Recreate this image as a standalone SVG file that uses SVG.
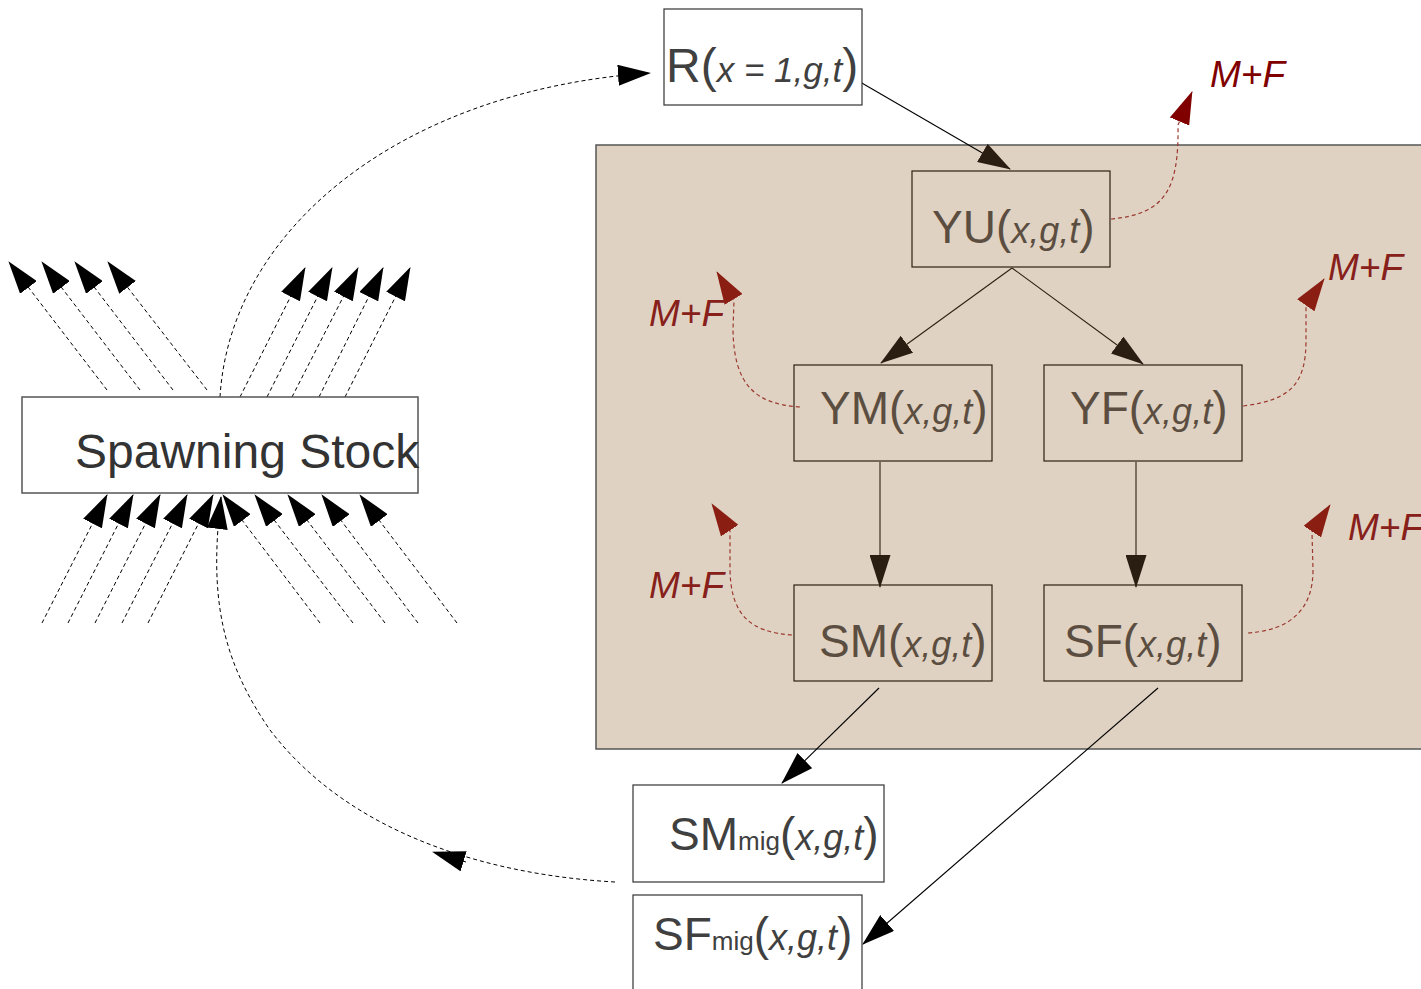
<svg xmlns="http://www.w3.org/2000/svg" width="1421" height="989" viewBox="0 0 1421 989">
<style>
text{font-family:"Liberation Sans",Arial,sans-serif;}
.big{font-size:46px;}
.it{font-size:36px;font-style:italic;}
.sub{font-size:26px;}
.out{fill:#404040;}
.in{fill:#5b4e41;}
.boxout{fill:#fff;stroke:#333;stroke-width:1.2;}
.boxin{fill:none;stroke:#2d2010;stroke-width:1.2;}
.mf{font-size:37px;font-style:italic;}
.solid{fill:none;stroke:#000;stroke-width:1.1;}
.solidin{fill:none;stroke:#2d2010;stroke-width:1.1;}
.dash{fill:none;stroke:#000;stroke-width:1;stroke-dasharray:4 3;}
.rdash{fill:none;stroke:#9a3a30;stroke-width:1.2;stroke-dasharray:4 3;}
</style>
<defs>
<marker id="ah" viewBox="0 0 33 21" refX="32" refY="10.5" markerWidth="33" markerHeight="21" orient="auto" markerUnits="userSpaceOnUse"><path d="M0,0 L33,10.5 L0,21z" fill="#000"/></marker>
<marker id="ahb" viewBox="0 0 33 21" refX="32" refY="10.5" markerWidth="33" markerHeight="21" orient="auto" markerUnits="userSpaceOnUse"><path d="M0,0 L33,10.5 L0,21z" fill="#2a1e12"/></marker>
<marker id="ahr" viewBox="0 0 33 21" refX="32" refY="10.5" markerWidth="33" markerHeight="21" orient="auto" markerUnits="userSpaceOnUse"><path d="M0,0 L33,10.5 L0,21z" fill="#800000"/></marker>
<marker id="ahri" viewBox="0 0 33 21" refX="32" refY="10.5" markerWidth="33" markerHeight="21" orient="auto" markerUnits="userSpaceOnUse"><path d="M0,0 L33,10.5 L0,21z" fill="#8a1e12"/></marker>
</defs>
<rect x="0" y="0" width="1421" height="989" fill="#fff"/>
<g id="region">
<rect x="596" y="145" width="840" height="604" fill="#e0d2c2" stroke="#555" stroke-width="1.5"/>
</g>
<g id="connectors">
<path class="solid" d="M848,75 L1010,169" marker-end="url(#ahb)"/>
<path class="solidin" d="M1012,268 L881,363" marker-end="url(#ahb)"/>
<path class="solidin" d="M1012,268 L1143,364" marker-end="url(#ahb)"/>
<path class="solidin" d="M880,462 L880,587" marker-end="url(#ahb)"/>
<path class="solidin" d="M1136,462 L1136,587" marker-end="url(#ahb)"/>
<path class="solid" d="M879,688 L782,783" marker-end="url(#ah)"/>
<path class="solid" d="M1158,688 L863,944" marker-end="url(#ah)"/>
<path class="dash" d="M220,397 C230,230 400,90 650,73" marker-end="url(#ah)"/>
<path class="dash" d="M615,882 C490,875 350,835 270,730 C218,655 210,590 221,497" marker-end="url(#ah)"/>
<path class="dash" d="M466,862 L433,852" marker-end="url(#ah)"/>
<path class="dash" d="M107,390 L9,262" marker-end="url(#ah)"/>
<path class="dash" d="M140,390 L42,262" marker-end="url(#ah)"/>
<path class="dash" d="M173,390 L75,262" marker-end="url(#ah)"/>
<path class="dash" d="M207,390 L108,262" marker-end="url(#ah)"/>
<path class="dash" d="M240,397 L305,268" marker-end="url(#ah)"/>
<path class="dash" d="M267,397 L332,268" marker-end="url(#ah)"/>
<path class="dash" d="M292,397 L358,268" marker-end="url(#ah)"/>
<path class="dash" d="M319,397 L383,268" marker-end="url(#ah)"/>
<path class="dash" d="M345,397 L410,268" marker-end="url(#ah)"/>
<path class="dash" d="M42,623 L107,495" marker-end="url(#ah)"/>
<path class="dash" d="M68,623 L133,495" marker-end="url(#ah)"/>
<path class="dash" d="M95,623 L160,495" marker-end="url(#ah)"/>
<path class="dash" d="M122,623 L187,495" marker-end="url(#ah)"/>
<path class="dash" d="M148,623 L213,495" marker-end="url(#ah)"/>
<path class="dash" d="M320,623 L223,495" marker-end="url(#ah)"/>
<path class="dash" d="M353,623 L255,495" marker-end="url(#ah)"/>
<path class="dash" d="M385,623 L288,495" marker-end="url(#ah)"/>
<path class="dash" d="M418,623 L322,495" marker-end="url(#ah)"/>
<path class="dash" d="M457,623 L360,495" marker-end="url(#ah)"/>
<path class="rdash" d="M1111,219 C1165,214 1179,190 1178,125 L1192,92" marker-end="url(#ahr)"/>
<path class="rdash" d="M800,407 C755,404 734,385 733,330 L734,300 L717,272" marker-end="url(#ahri)"/>
<path class="rdash" d="M1243,406 C1290,400 1306,385 1306,340 L1306,305 L1324,279" marker-end="url(#ahri)"/>
<path class="rdash" d="M792,635 C750,632 731,615 730,570 L730,531 L712,504" marker-end="url(#ahri)"/>
<path class="rdash" d="M1248,633 C1290,630 1313,610 1313,570 L1312,532 L1330,505" marker-end="url(#ahri)"/>
</g>
<g id="mf-labels">
<text class="mf" x="1210" y="87" fill="#800000">M+F</text>
<text class="mf" x="649" y="326" fill="#87201a">M+F</text>
<text class="mf" x="1328" y="280" fill="#87201a">M+F</text>
<text class="mf" x="649" y="598" fill="#87201a">M+F</text>
<text class="mf" x="1348" y="540" fill="#87201a">M+F</text>
</g>
<g id="node-R">
<rect class="boxout" x="664" y="9" width="198" height="96"/>
<text class="out" x="666" y="82"><tspan style="font-size:48px">R(</tspan><tspan style="font-size:35px;font-style:italic">x = 1,g,t</tspan><tspan style="font-size:48px">)</tspan></text>
</g>
<g id="node-stock">
<rect x="22" y="397" width="396" height="96" fill="#fff" stroke="#555" stroke-width="1.5"/>
<text x="75" y="468" fill="#333" style="font-size:48px">Spawning Stock</text>
</g>
<g id="node-YU">
<rect class="boxin" x="912" y="171" width="198" height="96"/>
<text class="in" x="932" y="243"><tspan class="big">YU(</tspan><tspan class="it">x,g,t</tspan><tspan class="big">)</tspan></text>
</g>
<g id="node-YM">
<rect class="boxin" x="794" y="365" width="198" height="96"/>
<text class="in" x="820" y="424"><tspan class="big">YM(</tspan><tspan class="it">x,g,t</tspan><tspan class="big">)</tspan></text>
</g>
<g id="node-YF">
<rect class="boxin" x="1044" y="365" width="198" height="96"/>
<text class="in" x="1070" y="424"><tspan class="big">YF(</tspan><tspan class="it">x,g,t</tspan><tspan class="big">)</tspan></text>
</g>
<g id="node-SM">
<rect class="boxin" x="794" y="585" width="198" height="96"/>
<text class="in" x="819" y="657"><tspan class="big">SM(</tspan><tspan class="it">x,g,t</tspan><tspan class="big">)</tspan></text>
</g>
<g id="node-SF">
<rect class="boxin" x="1044" y="585" width="198" height="96"/>
<text class="in" x="1064" y="657"><tspan class="big">SF(</tspan><tspan class="it">x,g,t</tspan><tspan class="big">)</tspan></text>
</g>
<g id="node-SMmig">
<rect class="boxout" x="633" y="785" width="251" height="97"/>
<text class="out" x="669" y="850"><tspan class="big">SM</tspan><tspan class="sub">mig</tspan><tspan class="big">(</tspan><tspan class="it">x,g,t</tspan><tspan class="big">)</tspan></text>
</g>
<g id="node-SFmig">
<rect class="boxout" x="633" y="895" width="229" height="110"/>
<text class="out" x="653" y="950"><tspan class="big">SF</tspan><tspan class="sub">mig</tspan><tspan class="big">(</tspan><tspan class="it">x,g,t</tspan><tspan class="big">)</tspan></text>
</g>
</svg>
